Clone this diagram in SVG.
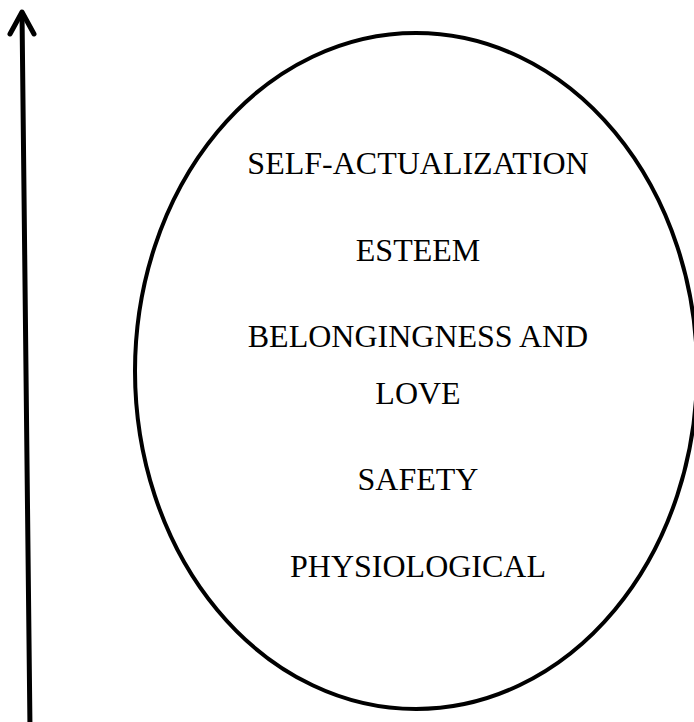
<svg xmlns="http://www.w3.org/2000/svg" width="694" height="722" viewBox="0 0 694 722">
<style>
.lbl{font-family:"Liberation Serif","Times New Roman",serif;font-size:32px;fill:#000;text-anchor:middle}
.stk{fill:none;stroke:#000;stroke-linecap:round;stroke-linejoin:round}
</style>
<rect width="694" height="722" fill="#fff"/>
<g id="connectors">
<line class="stk" x1="30" y1="730" x2="22" y2="13" stroke-width="5"/>
<polyline class="stk" points="10,34 22,12 34,34" stroke-width="5"/>
</g>
<g id="ellipse">
<ellipse class="stk" cx="416" cy="371" rx="281" ry="338" stroke-width="4"/>
</g>
<g id="self-actualization"><text class="lbl" x="418" y="174">SELF-ACTUALIZATION</text></g>
<g id="esteem"><text class="lbl" x="418" y="261">ESTEEM</text></g>
<g id="belongingness"><text class="lbl" x="418" y="347">BELONGINGNESS AND</text><text class="lbl" x="418" y="404">LOVE</text></g>
<g id="safety"><text class="lbl" x="418" y="490">SAFETY</text></g>
<g id="physiological"><text class="lbl" x="418" y="577">PHYSIOLOGICAL</text></g>
</svg>
